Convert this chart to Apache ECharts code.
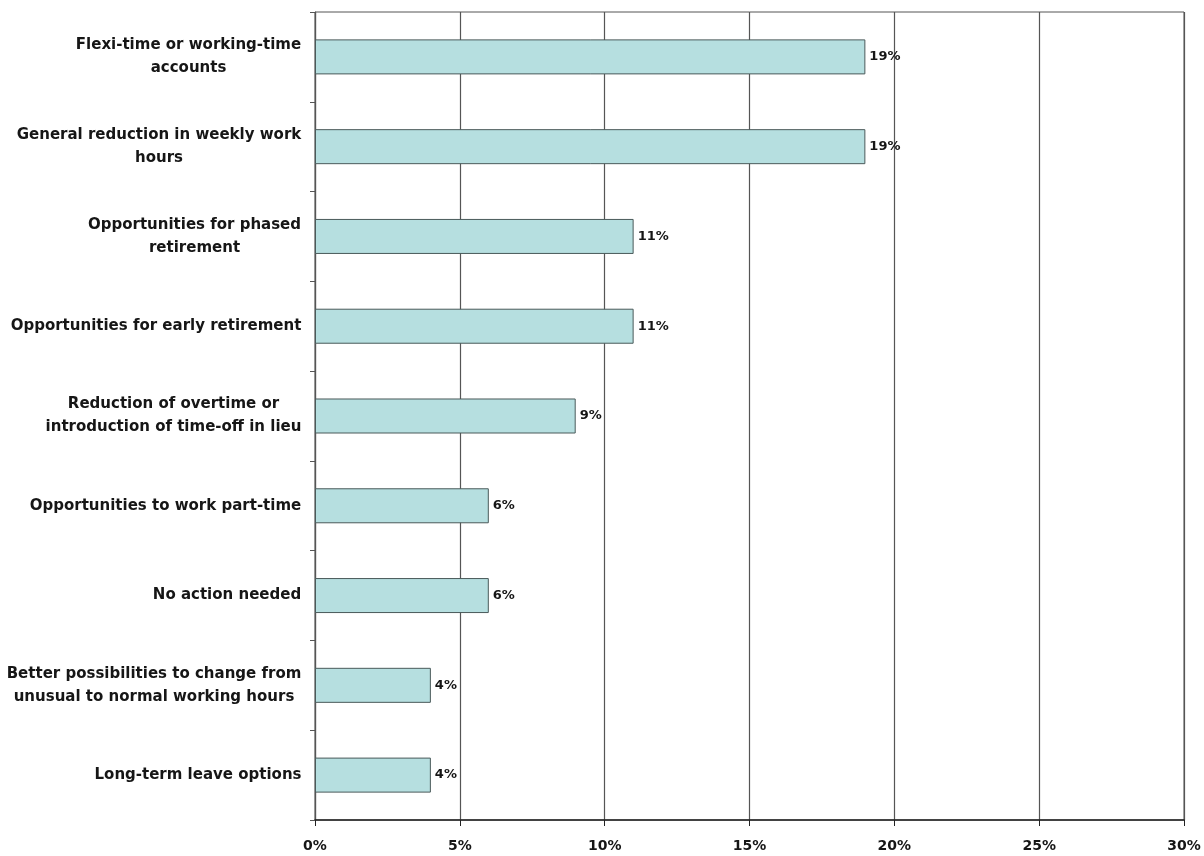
<!DOCTYPE html>
<html><head><meta charset="utf-8">
<script src="https://cdn.jsdelivr.net/npm/echarts@6/dist/echarts.min.js"></script>
<style>html,body{margin:0;padding:0;background:#fff}#c{width:1204px;height:856px}</style>
</head><body><div id="c"></div>
<script>
const categories = [
  "Flexi-time or working-time\naccounts",
  "General reduction in weekly work\nhours",
  "Opportunities for phased\nretirement",
  "Opportunities for early retirement",
  "Reduction of overtime or\nintroduction of time-off in lieu",
  "Opportunities to work part-time",
  "No action needed",
  "Better possibilities to change from\nunusual to normal working hours",
  "Long-term leave options"
];
const values = [19, 19, 11, 11, 9, 6, 6, 4, 4];
const xTicks = [0, 5, 10, 15, 20, 25, 30];

const FONT = 'DejaVu Sans';
const FS = 15;
const cv = document.createElement('canvas').getContext('2d');
cv.font = 'bold ' + FS + 'px "' + FONT + '"';
const rich = {};
categories.forEach((c, i) => {
  const w = Math.max(...c.split('\n').map(l => cv.measureText(l).width));
  rich['s' + i] = { width: Math.ceil(w) + 1, align: 'center', fontFamily: FONT, fontWeight: 'bold', fontSize: FS, color: '#161616', lineHeight: 23 };
});

const chart = echarts.init(document.getElementById('c'));
chart.setOption({
  animation: false,
  grid: { left: 315, right: 20, top: 12, bottom: 36, show: true, borderColor: '#555', borderWidth: 1 },
  xAxis: {
    type: 'value', min: 0, max: 30, interval: 5,
    axisLine: { show: true, lineStyle: { color: '#222', width: 1.5 } },
    axisTick: { show: true, length: 6, lineStyle: { color: '#222' } },
    splitLine: { show: true, lineStyle: { color: '#555', width: 1.2 } },
    axisLabel: { formatter: v => v + '%', fontFamily: FONT, fontWeight: 'bold', fontSize: 14, color: '#161616', margin: 19 }
  },
  yAxis: {
    type: 'category', inverse: true, data: categories,
    axisLine: { show: true, lineStyle: { color: '#555', width: 1.2 } },
    axisTick: { show: true, length: 5, lineStyle: { color: '#555' } },
    axisLabel: {
      margin: 13,
      formatter: (v, i) => v.split('\n').map(l => '{s' + i + '|' + l + '}').join('\n'),
      rich: rich
    }
  },
  series: [{
    type: 'bar', data: values, barCategoryGap: '61%',
    itemStyle: { color: '#b6dfe0', borderColor: '#4a5a5a', borderWidth: 1 },
    label: { show: true, position: 'right', distance: 4, formatter: p => p.value + '%', fontFamily: FONT, fontWeight: 'bold', fontSize: 13, color: '#161616' }
  }]
});
</script></body></html>
